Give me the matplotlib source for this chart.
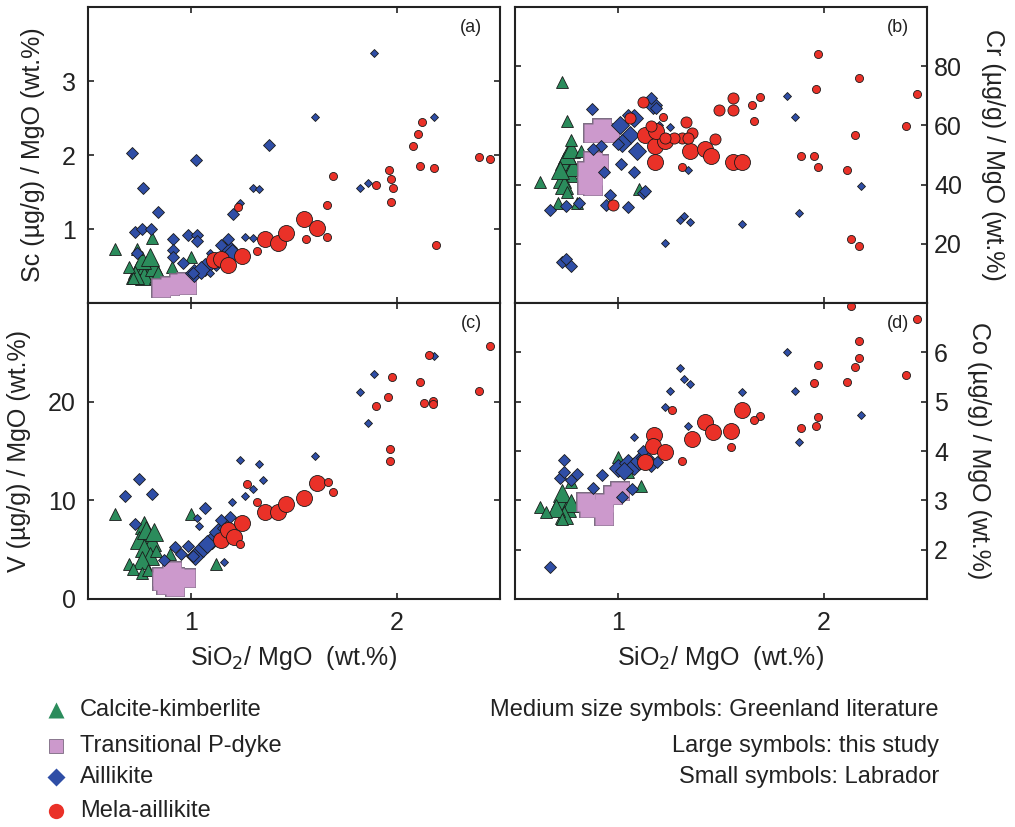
import matplotlib
matplotlib.use("Agg")
import matplotlib.pyplot as plt
import numpy as np

plt.rcParams['font.family'] = ['Liberation Sans', 'DejaVu Sans']

# size codes: S = Labrador, M = Greenland literature, L = this study
# ---- (a) Sc/MgO ----
a_kimb_x = [0.63, 0.81, 0.74, 1.00, 0.91, 0.70, 0.72, 0.74, 0.78, 0.80, 0.77, 0.82, 0.76, 0.80, 0.73, 0.84]
a_kimb_y = [0.73, 0.88, 0.73, 0.62, 0.49, 0.49, 0.34, 0.45, 0.52, 0.42, 0.36, 0.48, 0.58, 0.62, 0.38, 0.38]
a_kimb_s = "MMMMMMMLLLLLLLLL"
a_pdyke_x = [0.854, 0.90, 0.94, 0.975, 0.98]
a_pdyke_y = [0.20, 0.23, 0.27, 0.29, 0.25]
a_aill_x = [1.888, 1.60, 2.18, 1.82, 1.86, 1.30, 1.33, 1.24, 1.26, 1.30, 1.09, 1.09,
            0.714, 1.024, 1.38, 0.767, 0.84, 0.728, 0.762, 0.806, 0.913, 0.913, 0.913, 0.985,
            1.03, 1.03, 0.96, 1.01, 1.204, 1.18, 1.146, 0.74,
            1.07, 1.015, 1.18, 1.20, 1.12, 1.05]
a_aill_y = [3.38, 2.51, 2.52, 1.56, 1.62, 1.56, 1.54, 1.35, 0.89, 0.88, 0.67, 0.40,
            2.03, 1.93, 2.14, 1.55, 1.23, 0.96, 1.00, 1.00, 0.86, 0.71, 0.62, 0.92,
            0.92, 0.84, 0.54, 0.40, 1.20, 0.86, 0.78, 0.67,
            0.48, 0.40, 0.75, 0.67, 0.55, 0.45]
a_aill_s = "SSSSSSSSSSSS" + "MMMMMMMMMMMMMMMMMMMM" + "LLLLLL"
a_mela_x = [1.23, 1.32, 1.56, 1.66, 1.66, 1.69, 1.90, 1.96, 1.97, 1.98, 1.97, 2.08, 2.10,
            2.12, 2.11, 2.18, 2.19, 2.40, 2.45,
            1.11, 1.146, 1.18, 1.25, 1.36, 1.42, 1.46, 1.55, 1.61]
a_mela_y = [1.30, 0.70, 0.86, 0.89, 1.33, 1.72, 1.59, 1.80, 1.67, 1.56, 1.37, 2.12, 2.29,
            2.44, 1.85, 1.82, 0.78, 1.98, 1.95,
            0.58, 0.60, 0.51, 0.63, 0.86, 0.81, 0.95, 1.13, 1.01]
a_mela_s = "SSSSSSSSSSSSSSSSSSS" + "LLLLLLLLL"

# ---- (b) Cr/MgO ----
b_kimb_x = [0.73, 0.75, 0.77, 0.62, 1.10, 0.75, 0.71, 0.80, 0.82,
            0.74, 0.76, 0.73, 0.78, 0.75, 0.74, 0.77, 0.72]
b_kimb_y = [74.6, 61.4, 55.0, 41.0, 38.6, 37.6, 33.9, 33.9, 51.5,
            48.0, 44.0, 42.0, 46.0, 50.0, 40.0, 52.0, 45.0]
b_kimb_s = "MMMMMMMMM" + "LLLLLLLL"
b_pdyke_x = [0.88, 0.96, 0.92, 0.88, 0.91, 0.85, 0.88, 0.85, 0.88]
b_pdyke_y = [57.3, 57.3, 59.0, 48.1, 47.0, 44.5, 43.0, 40.0, 39.7]
b_aill_x = [1.82, 1.86, 2.18, 1.88, 1.60, 1.30, 1.32, 1.35, 1.23, 1.34, 1.25, 1.20,
            0.873, 0.67, 0.746, 0.81, 0.917, 1.00, 1.015, 1.08, 0.96, 0.94, 1.05, 1.12,
            1.13, 0.73, 0.746, 0.77, 0.88, 0.93, 1.05, 1.16, 1.185,
            1.01, 1.06, 1.09, 1.08, 1.02, 1.17]
b_aill_y = [69.8, 62.7, 39.7, 30.5, 26.8, 28.1, 29.5, 27.5, 20.3, 45.1, 59.3, 60.0,
            65.4, 31.5, 32.9, 33.9, 53.2, 53.6, 46.8, 44.4, 36.6, 33.2, 32.6, 37.0,
            38.0, 13.9, 14.9, 12.5, 52.2, 44.4, 63.4, 69.2, 65.8,
            60.0, 56.6, 51.5, 62.4, 54.0, 66.8]
b_aill_s = "SSSSSSSSSSSS" + "MMMMMMMMMMMMMMMMMMMMM" + "LLLLLL"
b_mela_x = [1.97, 1.96, 2.17, 2.45, 2.40, 2.15, 1.89, 1.95, 1.97, 2.11, 2.13, 2.17, 1.65,
            1.69, 1.66, 1.31, 1.22,
            0.976, 1.12, 1.49, 1.56, 1.56, 1.33, 1.36, 1.31, 1.47, 1.34, 1.27, 1.23, 1.16, 1.06,
            1.13, 1.18, 1.18, 1.23, 1.35, 1.42, 1.45, 1.56, 1.60, 1.185]
b_mela_y = [84.1, 72.2, 75.9, 70.5, 59.7, 56.6, 49.8, 49.8, 46.1, 45.1, 21.7, 19.3, 66.8,
            69.5, 61.4, 46.1, 62.7,
            33.2, 67.8, 65.1, 69.2, 65.1, 61.0, 57.3, 55.9, 55.3, 55.6, 55.6, 55.9, 59.7, 62.4,
            56.6, 53.2, 47.8, 54.6, 51.5, 52.2, 49.8, 47.8, 47.5, 58.0]
b_mela_s = "SSSSSSSSSSSSSSSSS" + "MMMMMMMMMMMMMM" + "LLLLLLLLLL"

# ---- (c) V/MgO ----
c_kimb_x = [0.63, 1.00, 1.12, 0.70, 0.72, 0.76, 0.79, 0.90, 0.83,
            0.77, 0.79, 0.75, 0.81, 0.77, 0.80, 0.76, 0.78, 0.82]
c_kimb_y = [8.6, 8.6, 3.5, 3.5, 3.0, 2.6, 2.9, 4.6, 4.9,
            7.5, 6.6, 6.0, 5.8, 5.2, 4.4, 4.0, 7.0, 6.8]
c_kimb_s = "MMMMMMMMM" + "LLLLLLLLL"
c_pdyke_x = [0.91, 0.86, 0.92, 0.975, 0.88, 0.92, 0.86]
c_pdyke_y = [2.86, 2.2, 2.2, 2.1, 1.4, 1.25, 1.8]
c_aill_x = [2.18, 1.89, 1.82, 1.86, 1.60, 1.24, 1.33, 1.35, 1.30, 1.26, 1.20, 1.16, 1.03, 1.04,
            0.68, 0.75, 0.81, 0.73, 1.07, 0.92, 0.985, 0.95, 0.87, 1.146, 1.19, 1.01,
            1.02, 1.06, 1.10, 1.13, 1.17, 1.08]
c_aill_y = [24.6, 22.8, 21.0, 17.8, 14.5, 14.1, 13.7, 12.1, 11.1, 10.4, 9.8, 3.8, 8.2, 7.4,
            10.4, 12.2, 10.6, 7.6, 9.2, 5.3, 5.4, 4.6, 4.0, 8.0, 8.3, 4.4,
            4.4, 5.2, 6.0, 6.8, 7.2, 5.6]
c_aill_s = "SSSSSSSSSSSSSS" + "MMMMMMMMMMMM" + "LLLLLL"
c_mela_x = [2.45, 2.155, 1.976, 2.11, 2.40, 1.956, 1.90, 2.13, 2.175, 2.175, 1.966, 1.966,
            1.665, 1.69, 1.27, 1.32, 1.24,
            1.146, 1.18, 1.25, 1.36, 1.42, 1.46, 1.55, 1.61, 1.21]
c_mela_y = [25.6, 24.7, 22.5, 22.0, 21.1, 20.5, 19.6, 19.9, 20.1, 19.8, 15.2, 14.0,
            11.9, 10.8, 11.7, 9.8, 5.6,
            6.0, 7.0, 7.7, 8.8, 8.8, 9.6, 10.2, 11.8, 6.3]
c_mela_s = "SSSSSSSSSSSSSSSSS" + "LLLLLLLLL"

# ---- (d) Co/MgO ----
d_kimb_x = [0.62, 1.00, 1.05, 1.11, 0.77, 0.73, 0.65,
            0.72, 0.75, 0.73, 0.77, 0.74, 0.70]
d_kimb_y = [2.87, 3.88, 3.58, 3.29, 3.37, 2.63, 2.77,
            3.00, 2.85, 3.15, 2.95, 2.70, 2.85]
d_kimb_s = "MMMMMMM" + "LLLLLL"
d_pdyke_x = [0.844, 0.86, 0.93, 0.93, 0.976, 1.01]
d_pdyke_y = [2.97, 2.85, 2.69, 2.95, 3.10, 3.19]
d_aill_x = [1.82, 1.86, 2.18, 1.88, 1.60, 1.30, 1.32, 1.35, 1.25, 1.23, 1.34, 1.08,
            0.74, 0.72, 0.74, 0.77, 0.80, 0.92, 0.88, 1.02, 1.07, 0.67, 1.16, 1.19, 1.12,
            1.00, 1.05, 1.08, 1.10, 1.03, 1.13]
d_aill_y = [6.00, 5.21, 4.73, 4.18, 5.19, 5.68, 5.45, 5.35, 5.21, 4.89, 4.51, 4.28,
            3.82, 3.45, 3.58, 3.41, 3.54, 3.52, 3.25, 3.07, 3.23, 1.64, 3.70, 3.78, 4.00,
            3.65, 3.75, 3.70, 3.80, 3.60, 3.85]
d_aill_s = "SSSSSSSSSSSS" + "MMMMMMMMMMMMM" + "LLLLLL"
d_mela_x = [2.13, 2.45, 2.17, 2.17, 2.15, 1.97, 1.95, 2.11, 2.40, 1.97, 1.96, 1.89, 1.69,
            1.66, 1.55, 1.31, 1.26,
            1.175, 1.17, 1.23, 1.13, 1.36, 1.42, 1.46, 1.55, 1.60]
d_mela_y = [6.93, 6.67, 6.24, 5.88, 5.70, 5.74, 5.37, 5.39, 5.54, 4.69, 4.51, 4.46, 4.71,
            4.63, 4.08, 3.80, 4.83,
            4.32, 4.10, 3.98, 3.78, 4.24, 4.59, 4.38, 4.40, 4.83]
d_mela_s = "SSSSSSSSSSSSSSSSS" + "LLLLLLLLL"

group_names = ["Calcite-kimberlite", "Transitional P-dyke", "Aillikite", "Mela-aillikite"]
notes = ["Medium size symbols: Greenland literature", "Large symbols: this study",
         "Small symbols: Labrador"]

# styles
green, pink, blue, red = "#2b8c5c", "#cc99cc", "#2f4ea6", "#ea3128"
pink_edge = "#7a6a80"
sty = {
    "kimb": dict(marker="^", color=green, ms={"S": 6, "M": 8.5, "L": 13}),
    "pdyke": dict(marker="s", color=pink, ms={"S": 6, "M": 8, "L": 13.5}),
    "aill": dict(marker="D", color=blue, ms={"S": 4.4, "M": 6.6, "L": 9.2}),
    "mela": dict(marker="o", color=red, ms={"S": 5.8, "M": 8, "L": 11.5}),
}


def draw(ax, key, xs, ys, codes):
    st = sty[key]
    xs = np.asarray(xs)
    ys = np.asarray(ys)
    codes = np.array(list(codes))
    if key == "pdyke":
        # squares merge into one blob: outline first, then fill on top
        ms = st["ms"]["L"]
        ax.plot(xs, ys, ls="none", marker="s", ms=ms, mfc=pink, mec=pink_edge, mew=1.4)
        ax.plot(xs, ys, ls="none", marker="s", ms=ms, mfc=pink, mec="none")
        return
    for c in ["L", "M", "S"]:
        m = codes == c
        if m.any():
            ax.plot(xs[m], ys[m], ls="none", marker=st["marker"], ms=st["ms"][c],
                    mfc=st["color"], mec="#1a1a1a", mew=0.6)


fig = plt.figure(figsize=(10.15, 8.27), dpi=100)
L1, W = 0.0867, 0.4059
L2 = 0.5074
H = 0.3579
axa = fig.add_axes([L1, 0.6336, W, H])
axb = fig.add_axes([L2, 0.6336, W, H])
axc = fig.add_axes([L1, 0.2757, W, H])
axd = fig.add_axes([L2, 0.2757, W, H])

panels = [
    (axa, "(a)", (0, 4), [1, 2, 3],
     [(a_kimb_x, a_kimb_y, a_kimb_s), (a_pdyke_x, a_pdyke_y, "L" * len(a_pdyke_x)),
      (a_aill_x, a_aill_y, a_aill_s), (a_mela_x, a_mela_y, a_mela_s)]),
    (axb, "(b)", (0, 100), [20, 40, 60, 80],
     [(b_kimb_x, b_kimb_y, b_kimb_s), (b_pdyke_x, b_pdyke_y, "L" * len(b_pdyke_x)),
      (b_aill_x, b_aill_y, b_aill_s), (b_mela_x, b_mela_y, b_mela_s)]),
    (axc, "(c)", (0, 30), [0, 10, 20],
     [(c_kimb_x, c_kimb_y, c_kimb_s), (c_pdyke_x, c_pdyke_y, "L" * len(c_pdyke_x)),
      (c_aill_x, c_aill_y, c_aill_s), (c_mela_x, c_mela_y, c_mela_s)]),
    (axd, "(d)", (1, 7), [2, 3, 4, 5, 6],
     [(d_kimb_x, d_kimb_y, d_kimb_s), (d_pdyke_x, d_pdyke_y, "L" * len(d_pdyke_x)),
      (d_aill_x, d_aill_y, d_aill_s), (d_mela_x, d_mela_y, d_mela_s)]),
]

for ax, lab, ylim, yt, groups in panels:
    for key, (xs, ys, cs) in zip(["kimb", "pdyke", "aill", "mela"], groups):
        draw(ax, key, xs, ys, cs)
    ax.set_xlim(0.5, 2.5)
    ax.set_ylim(*ylim)
    ax.set_xticks([1, 2])
    ax.set_yticks(yt)
    for sp in ax.spines.values():
        sp.set_linewidth(1.5)
        sp.set_color("#222222")
    ax.tick_params(direction="in", length=4, width=1.2, top=True, right=True,
                   labelsize=18, colors="#222222")
    ax.text(0.93, 0.93, lab, transform=ax.transAxes, fontsize=13, ha="center", va="center",
            color="#222222")

for ax in (axa, axb):
    ax.tick_params(labelbottom=False)
for ax in (axb, axd):
    ax.tick_params(labelleft=False, labelright=True, pad=5)
    ax.yaxis.set_label_position("right")
for ax in (axa, axc):
    ax.tick_params(axis="y", pad=9)
for ax in (axc, axd):
    ax.tick_params(axis="x", pad=9)
    ax.set_xlabel("SiO$_2$/ MgO  (wt.%)", fontsize=18, labelpad=6, color="#222222")

axa.set_ylabel("Sc (µg/g) / MgO (wt.%)", fontsize=18, labelpad=12, color="#222222")
axc.set_ylabel("V (µg/g) / MgO (wt.%)", fontsize=18, labelpad=12, color="#222222")
axb.set_ylabel("Cr (µg/g) / MgO (wt.%)", fontsize=18, rotation=270, va="bottom",
               labelpad=14, color="#222222")
axd.set_ylabel("Co (µg/g) / MgO (wt.%)", fontsize=18, rotation=270, va="bottom",
               labelpad=14, color="#222222")

# legend, drawn in figure coordinates
leg_keys = ["kimb", "pdyke", "aill", "mela"]
leg_ms = [11, 10, 9, 11]
leg_y = [1 - 710 / 827, 1 - 746 / 827, 1 - 777 / 827, 1 - 811 / 827]
for key, name, ms, yy in zip(leg_keys, group_names, leg_ms, leg_y):
    ec = pink_edge if key == "pdyke" else "none"
    fig.lines.append(plt.Line2D([56 / 1015], [yy], transform=fig.transFigure, ls="none",
                                marker=sty[key]["marker"], ms=ms, mfc=sty[key]["color"],
                                mec=ec, mew=0.6))
    fig.text(80 / 1015, yy, name, fontsize=17, va="center", ha="left", color="#222222")
for note, yy in zip(notes, leg_y[:3]):
    fig.text(939 / 1015, yy, note, fontsize=17, va="center", ha="right", color="#222222")

fig.savefig("out.png", dpi=100)
